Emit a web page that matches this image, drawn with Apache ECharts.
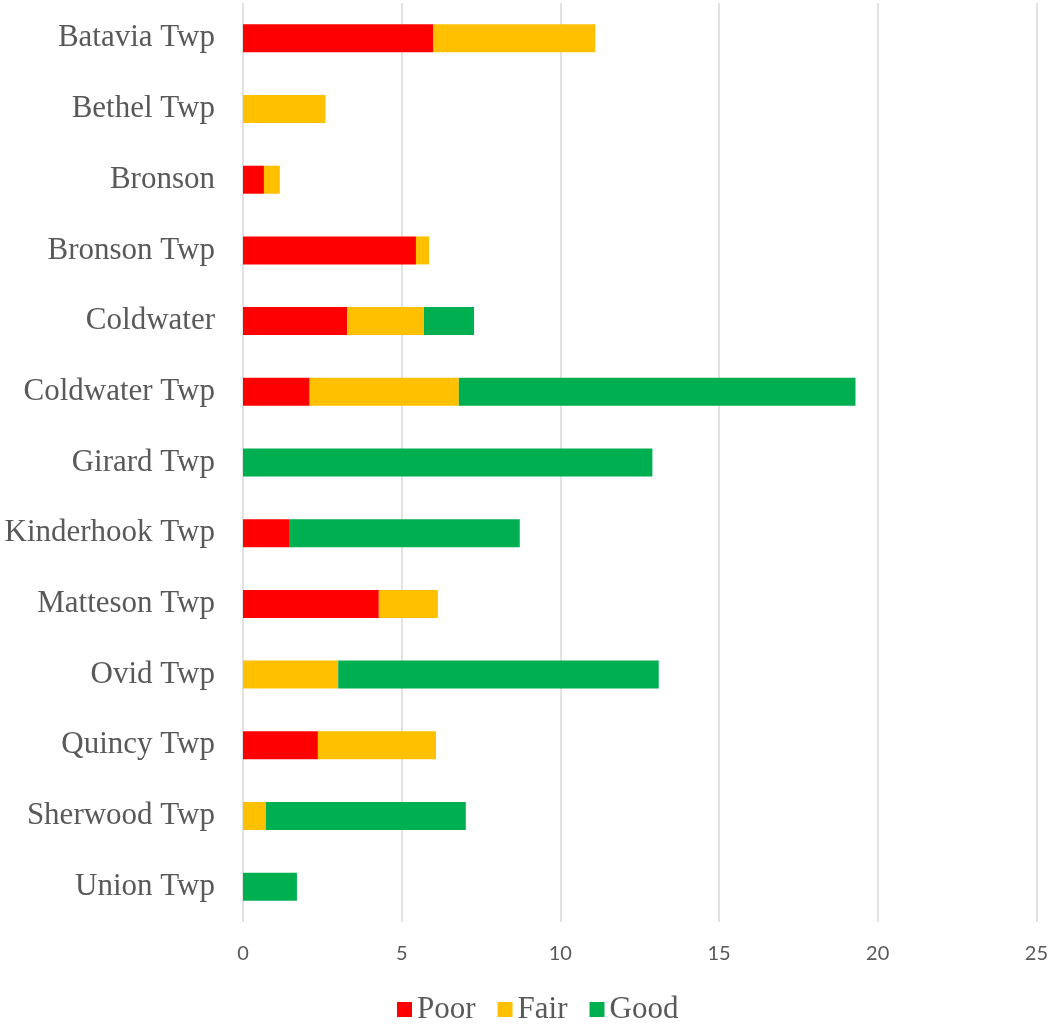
<!DOCTYPE html>
<html>
<head>
<meta charset="utf-8">
<script src="https://cdn.jsdelivr.net/npm/echarts@6/dist/echarts.min.js"></script>
<style>
html, body { margin: 0; padding: 0; background: #fff; }
#main { width: 1051px; height: 1024px; }
</style>
</head>
<body>
<div id="main"></div>
<script>
var townships = ['Batavia Twp', 'Bethel Twp', 'Bronson', 'Bronson Twp', 'Coldwater', 'Coldwater Twp',
    'Girard Twp', 'Kinderhook Twp', 'Matteson Twp', 'Ovid Twp', 'Quincy Twp', 'Sherwood Twp', 'Union Twp'];
var poor = [6.0, 0, 0.66, 5.45, 3.28, 2.1, 0, 1.45, 4.28, 0, 2.36, 0, 0];
var fair = [5.1, 2.6, 0.5, 0.41, 2.42, 4.7, 0, 0, 1.86, 3.0, 3.72, 0.72, 0];
var good = [0, 0, 0, 0, 1.58, 12.5, 12.9, 7.27, 0, 10.1, 0, 6.3, 1.7];
var xTicks = [0, 5, 10, 15, 20, 25];

var chart = echarts.init(document.getElementById('main'));

function bar(name, values, color) {
    return {
        name: name,
        type: 'bar',
        stack: 'total',
        barWidth: 28,
        data: values,
        itemStyle: { color: color }
    };
}

var option = {
    animation: false,
    grid: { left: 243, right: 13.5, top: 3, bottom: 102, containLabel: false },
    legend: {
        top: 989,
        left: 392,
        itemWidth: 15,
        itemHeight: 15,
        itemGap: 22,
        icon: 'rect',
        textStyle: { fontFamily: 'Liberation Serif', fontSize: 31, color: '#595959' },
        data: ['Poor', 'Fair', 'Good']
    },
    xAxis: {
        type: 'value',
        min: xTicks[0],
        max: xTicks[xTicks.length - 1],
        interval: 5,
        axisLine: { show: false },
        axisTick: { show: false },
        axisLabel: { fontFamily: 'Lato', fontSize: 20, color: '#595959', margin: 22 },
        splitLine: { lineStyle: { color: '#d9d9d9', width: 1.5 } }
    },
    yAxis: {
        type: 'category',
        inverse: true,
        data: townships,
        axisLine: { show: false },
        axisTick: { show: false },
        axisLabel: {
            fontFamily: 'Liberation Serif', fontSize: 31, color: '#595959', margin: 28,
            padding: [10, 0, 0, 0]
        }
    },
    series: [
        bar('Poor', poor, '#ff0000'),
        bar('Fair', fair, '#ffc000'),
        bar('Good', good, '#00b050')
    ]
};
chart.setOption(option);
</script>
</body>
</html>
